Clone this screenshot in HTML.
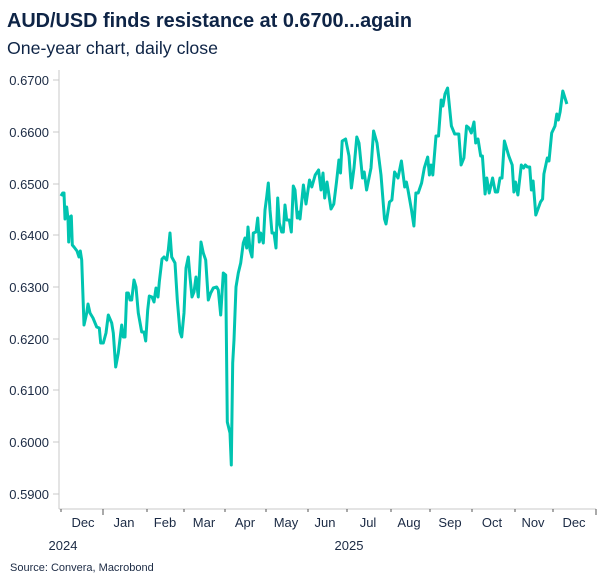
<!DOCTYPE html>
<html><head><meta charset="utf-8"><style>
body{margin:0;background:#fff;}
svg{display:block;font-family:"Liberation Sans",sans-serif;}
</style></head><body>
<svg width="604" height="585" viewBox="0 0 604 585">
<text x="7" y="27" font-size="20" font-weight="bold" fill="#0e2446" textLength="405" lengthAdjust="spacingAndGlyphs">AUD/USD finds resistance at 0.6700...again</text>
<text x="7" y="54" font-size="17.5" fill="#0e2446" textLength="211" lengthAdjust="spacingAndGlyphs">One-year chart, daily close</text>
<g font-size="13" fill="#1b2a44" text-anchor="end">
<text x="49" y="85">0.6700</text><text x="49" y="137">0.6600</text><text x="49" y="189">0.6500</text>
<text x="49" y="240">0.6400</text><text x="49" y="292">0.6300</text><text x="49" y="344">0.6200</text>
<text x="49" y="395">0.6100</text><text x="49" y="447">0.6000</text><text x="49" y="499">0.5900</text>
</g>
<g stroke="#c8c8c8" stroke-width="1">
<line x1="59" y1="70" x2="59" y2="509"/>
<line x1="59" y1="509" x2="596" y2="509"/>
<line x1="53" y1="80" x2="59" y2="80"/><line x1="53" y1="132" x2="59" y2="132"/><line x1="53" y1="184" x2="59" y2="184"/>
<line x1="53" y1="235" x2="59" y2="235"/><line x1="53" y1="287" x2="59" y2="287"/><line x1="53" y1="339" x2="59" y2="339"/>
<line x1="53" y1="390" x2="59" y2="390"/><line x1="53" y1="442" x2="59" y2="442"/><line x1="53" y1="494" x2="59" y2="494"/>
</g>
<g stroke="#555" stroke-width="1">
<line x1="61" y1="509" x2="61" y2="512"/><line x1="103" y1="509" x2="103" y2="515"/><line x1="147" y1="509" x2="147" y2="512"/>
<line x1="184" y1="509" x2="184" y2="512"/><line x1="225" y1="509" x2="225" y2="512"/><line x1="266" y1="509" x2="266" y2="512"/>
<line x1="308" y1="509" x2="308" y2="512"/><line x1="347" y1="509" x2="347" y2="512"/><line x1="391" y1="509" x2="391" y2="512"/>
<line x1="430" y1="509" x2="430" y2="512"/><line x1="472" y1="509" x2="472" y2="512"/><line x1="515" y1="509" x2="515" y2="512"/>
<line x1="553" y1="509" x2="553" y2="512"/><line x1="596" y1="509" x2="596" y2="515"/>
</g>
<g font-size="13" fill="#1b2a44" text-anchor="middle">
<text x="83" y="527">Dec</text><text x="124" y="527">Jan</text><text x="165" y="527">Feb</text><text x="204" y="527">Mar</text>
<text x="245" y="527">Apr</text><text x="286" y="527">May</text><text x="325" y="527">Jun</text><text x="368" y="527">Jul</text>
<text x="409" y="527">Aug</text><text x="450" y="527">Sep</text><text x="492" y="527">Oct</text><text x="533" y="527">Nov</text>
<text x="574" y="527">Dec</text>
<text x="63" y="550">2024</text><text x="349" y="550">2025</text>
</g>
<text x="10" y="571" font-size="11" fill="#1b2a44">Source: Convera, Macrobond</text>
<polyline fill="none" stroke="#00c4b0" stroke-width="3" stroke-linejoin="round" points="
61,196 62.7,193 64,193 65,219 66.7,207 68,219 68.7,242 70,217 71.3,216 72.3,245 74,247 77,251 79,257 80.3,251 81.7,260 84,325 86.7,313 88,304 90,313 93,318 96.7,327 99.3,328 100.7,343 103.3,343 106,333 108.3,315 111.7,323 113.3,333 115.7,367 118.3,353 121.7,325 123.3,337 125,337 126.7,293 128.3,293 130,300 131.7,300 134,280 136,287 138.3,313 141.7,332 144,332 145.7,341 147.7,310 149.3,296 152,297 154,302 156,288 158,297 159.3,282 162,259 164,257 166.7,260 168.3,250 170,233 171.7,257 175,263 177.3,300 180,332 181.7,337 184,313 186,268 188.3,257 190,277 192,297 194,292 196,277 198.3,297 201,242 203.3,253 205.7,260 208.3,300 210.7,293 213.3,288 216.7,287 218.3,290 220.7,315 223.3,273 225.7,275 227.3,422 230,433 231.3,465 232.7,363 234,340 236,287 238.3,273 240.7,263 243.3,243 245,238 246.7,248 248,227 250,250 252,257 253.3,233 256,232 257.7,218 259.3,242 260.7,233 263.3,243 265,210 266.7,197 268.3,183 270,210 272,233 274,233 276,248 277.7,198 279.3,223 281.7,232 283.3,232 285,205 286.7,220 289.3,220 291.3,232 293.3,186 295,190 297.3,218 299.3,212 300,219 303.4,185 306,204 309.5,180 311.8,187 315.2,175 318.6,170 321,190 323,173 324.7,198 327,182 331,209 333.8,204 336.5,182 338.9,160 340.5,173 342.2,141 345.6,139 349,156 351.4,188 354,168 356.8,137 359,143 362.5,178 364.2,172 366.6,190 371,168 373.6,131 377,143 381,175 384.5,219 386,224 389.5,202 391.9,200 394.6,172 398,178 401.4,161 404.7,187 406.4,182 408,190 411.5,210 413.9,226 415.9,193 418.2,193 421.6,183 424.3,168 427.7,157 429.4,175 431,165 432.8,175 436,136 438.5,136 441.2,100 442.9,106 445,94 447.6,88 451.4,126 454.7,134 458.8,134 461.1,165 463.9,158 466.6,126 469,128 471.3,133 474,122 475.7,143 478,139 480.7,156 482.4,156 485.1,194 486.8,178 489.2,193 492.6,178 495.3,192 497.6,192 500,178 502,178 504.4,141 508.8,156 512.2,165 513.9,192 515.5,182 517.9,195 521.3,165 523.6,168 525.3,165 527.4,167 529.7,167 531.4,190 533.1,181 535.8,215 540.5,202 542.6,199 543.9,174 547.3,158 549,161 551.7,133 555,126 556.8,114 558.4,120 560.1,112 562.8,91 566.9,104"/>
</svg>
</body></html>
